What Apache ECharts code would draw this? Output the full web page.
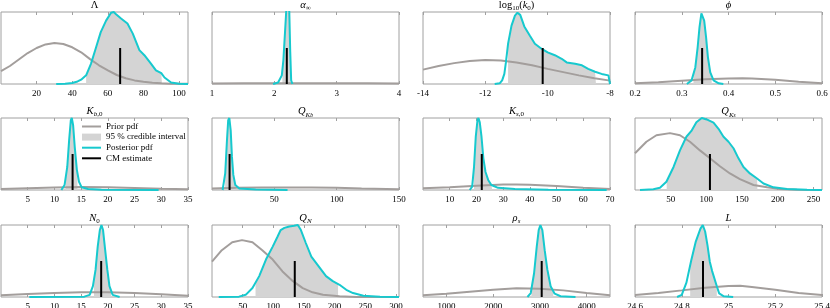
<!DOCTYPE html>
<html><head><meta charset="utf-8">
<script src="https://cdn.jsdelivr.net/npm/echarts@6/dist/echarts.min.js"></script>
<style>html,body{margin:0;padding:0;background:#fff}#c{width:830px;height:308px}</style>
</head><body><div id="c"></div>
<script>
// ---------- DATA (densities normalised to each panel's box height) ----------
const titles = [
  '{n|Λ}', '{it|α}{sub|∞}', '{n|log}{sub|10}{n|(}{it|k}{sub|0}{n|)}', '{it|ϕ}',
  '{it|K}{subi|b}{sub|,0}', '{it|Q}{subi|K}{subsub|b}', '{it|K}{subi|s}{sub|,0}', '{it|Q}{subi|K}{subsub|s}',
  '{it|N}{sub|0}', '{it|Q}{subi|N}', '{it|ρ}{subi|s}', '{it|L}'
];
const xMins = [0, 1, -14, 0.2, 0, 0, 0, 0, 0, 0, 500, 24.6];
const xMaxs = [105, 4, -8, 0.6, 35, 150, 70, 262, 35, 305, 4500, 25.4];
const tickLabels = [
  [20, 40, 60, 80, 100], [1, 2, 3, 4], [-14, -12, -10, -8], [0.2, 0.3, 0.4, 0.5, 0.6],
  [5, 10, 15, 20, 25, 30, 35], [50, 100, 150], [10, 20, 30, 40, 50, 60, 70], [50, 100, 150, 200, 250],
  [5, 10, 15, 20, 25, 30, 35], [50, 100, 150, 200, 250, 300], [1000, 2000, 3000, 4000], [24.6, 24.8, 25, 25.2, 25.4]
];

const priorLambda = [[0,0.18],[5,0.25],[10,0.34],[15,0.43],[20,0.5],[25,0.55],[30,0.57],[35,0.555],[40,0.51],[45,0.44],[50,0.345],[55,0.26],[60,0.19],[65,0.125],[70,0.08],[75,0.05],[80,0.03],[85,0.018],[90,0.01],[95,0.005],[100,0.003],[105,0.002]];
const postLambda = [[31,0],[36,0.005],[40,0.015],[43,0.035],[45,0.06],[47.8,0.12],[50.5,0.28],[53.4,0.51],[56,0.72],[59,0.88],[61.8,0.99],[63.3,1.0],[64.6,0.97],[67.4,0.91],[71,0.84],[74,0.7],[77.7,0.47],[80.5,0.4],[84.3,0.28],[87,0.19],[90,0.15],[91.8,0.09],[95.5,0.02],[100,0.004],[105,0]];

const priorAlpha = [[1,0.008],[1.5,0.01],[2,0.012],[2.5,0.012],[3,0.011],[3.5,0.009],[4,0.007]];
const postAlpha = [[1.98,0],[2.06,0.02],[2.12,0.12],[2.145,0.33],[2.17,0.7],[2.19,1.0],[2.215,1.3],[2.24,1.0],[2.255,0.45],[2.27,0.05],[2.29,0]];

const priorLogK = [[-14,0.2],[-13.5,0.25],[-13,0.29],[-12.5,0.32],[-12,0.335],[-11.5,0.325],[-11,0.3],[-10.5,0.26],[-10,0.21],[-9.5,0.165],[-9,0.12],[-8.5,0.08],[-8,0.047]];
const postLogK = [[-11.7,0],[-11.54,0.01],[-11.46,0.05],[-11.39,0.14],[-11.34,0.3],[-11.27,0.56],[-11.16,0.81],[-11.05,0.95],[-10.97,0.99],[-10.88,0.96],[-10.75,0.8],[-10.57,0.67],[-10.41,0.56],[-10.2,0.49],[-10.0,0.44],[-9.77,0.4],[-9.55,0.35],[-9.39,0.3],[-9.12,0.28],[-8.9,0.26],[-8.7,0.21],[-8.48,0.17],[-8.27,0.14],[-8.05,0.12],[-8,0.11],[-8,0]];

const priorPhi = [[0.2,0.01],[0.25,0.025],[0.3,0.045],[0.35,0.065],[0.4,0.078],[0.43,0.08],[0.45,0.078],[0.5,0.058],[0.55,0.03],[0.6,0.01]];
const postPhi = [[0.311,0],[0.321,0.05],[0.329,0.23],[0.334,0.51],[0.338,0.79],[0.342,0.98],[0.344,1.0],[0.348,0.88],[0.352,0.65],[0.356,0.37],[0.361,0.16],[0.368,0.05],[0.379,0.01],[0.389,0]];

const priorKb0 = [[0,0.015],[5,0.025],[10,0.035],[15,0.04],[20,0.037],[25,0.028],[30,0.018],[35,0.01]];
const postKb0 = [[11.3,0],[11.9,0.07],[12.4,0.32],[12.75,0.69],[13.07,0.97],[13.25,1.0],[13.5,0.9],[13.8,0.6],[14.2,0.28],[14.6,0.115],[15.1,0.037],[16.3,0.014],[18.8,0.005],[29.5,0]];

const priorQKb = [[0,0.02],[20,0.03],[40,0.035],[60,0.036],[80,0.034],[100,0.03],[120,0.022],[150,0.012]];
const postQKb = [[8.5,0],[10.6,0.23],[12,0.69],[13,0.97],[13.9,1.0],[15,0.83],[16,0.46],[17.1,0.21],[18.7,0.07],[21.9,0.02],[35,0.008],[60.6,0]];

const priorKs0 = [[0,0.023],[10,0.037],[20,0.06],[30,0.078],[35,0.078],[40,0.074],[50,0.055],[60,0.032],[70,0.014]];
const postKs0 = [[17.5,0],[18.4,0.046],[19.1,0.32],[19.75,0.74],[20.4,0.97],[20.75,1.0],[21.25,0.94],[21.9,0.74],[22.6,0.44],[23.4,0.25],[24.4,0.14],[25.6,0.07],[28.1,0.03],[34.4,0.014],[46.9,0.005],[68.75,0]];

const priorQKs = [[0,0.51],[16,0.67],[30,0.76],[49,0.79],[63,0.76],[77,0.67],[91,0.55],[105,0.44],[119,0.33],[133,0.23],[147,0.15],[166,0.07],[185,0.037],[203,0.014],[227,0.005],[262,0]];
const postQKs = [[7,0],[25.7,0.01],[35,0.03],[44,0.115],[54,0.32],[63,0.55],[72,0.74],[79,0.82],[86,0.94],[93.5,1.0],[100.5,0.98],[110,0.935],[117,0.85],[124,0.74],[131,0.67],[138,0.58],[145,0.44],[152,0.32],[161,0.23],[171,0.16],[180,0.09],[194,0.037],[213,0.014],[241,0.005],[262,0]];

const priorN0 = [[0,0.023],[5,0.04],[10,0.055],[15,0.065],[20,0.065],[25,0.055],[30,0.037],[35,0.018]];
const postN0 = [[5.3,0],[15.6,0.005],[16.6,0.03],[17.2,0.15],[17.7,0.38],[18.1,0.7],[18.5,0.93],[18.8,1.0],[19.1,0.93],[19.5,0.65],[19.9,0.38],[20.3,0.15],[20.9,0.03],[22.2,0]];

const priorQN = [[0,0.49],[16,0.65],[33,0.76],[49,0.79],[66,0.76],[82,0.65],[99,0.52],[115,0.355],[132,0.22],[148,0.124],[164,0.065],[181,0.03],[208,0.01],[236,0],[305,0]];
const postQN = [[11,0],[44,0.005],[55,0.03],[66,0.124],[77,0.29],[88,0.52],[99,0.7],[107,0.84],[112,0.93],[118,0.96],[126,0.98],[134,0.99],[140,1.0],[145,0.93],[153,0.75],[162,0.56],[170,0.47],[178,0.38],[186,0.29],[197,0.22],[208,0.17],[219,0.1],[230,0.055],[247,0.018],[274,0.005],[305,0]];

const priorRho = [[500,0.023],[1000,0.046],[1500,0.074],[2000,0.1],[2500,0.12],[3000,0.115],[3500,0.092],[4000,0.055],[4500,0.023]];
const postRho = [[2734,0],[2805,0.055],[2876,0.33],[2933,0.7],[2975,0.93],[3011,1.0],[3053,0.93],[3103,0.65],[3160,0.38],[3230,0.15],[3316,0.046],[3443,0.01],[3762,0]];

const priorL = [[24.6,0.028],[24.7,0.055],[24.8,0.092],[24.9,0.13],[25.0,0.152],[25.05,0.155],[25.1,0.138],[25.2,0.1],[25.3,0.055],[25.4,0.028]];
const postL = [[24.78,0],[24.8,0.03],[24.82,0.2],[24.84,0.5],[24.86,0.77],[24.88,0.95],[24.89,1.0],[24.9,0.91],[24.91,0.72],[24.92,0.49],[24.93,0.36],[24.95,0.15],[24.96,0.05],[24.98,0.01],[25.02,0]];

const ciLow  = [47.8, 2.13, -11.27, 0.325, 12.1, 10.5, 18.9, 44.4, 17.4, 71, 2819, 24.836];
const ciHigh = [90.4, 2.26, -8.45, 0.364, 14.3, 19.0, 25.9, 171.5, 20.6, 205.6, 3287, 24.95];
const cmEstimate = [66.9, 2.2, -10.16, 0.3436, 13.4, 14.1, 22.0, 105, 18.75, 135, 3039, 24.891];
const cmHeight = 0.5;

const priors = [priorLambda, priorAlpha, priorLogK, priorPhi, priorKb0, priorQKb, priorKs0, priorQKs, priorN0, priorQN, priorRho, priorL];
const posts  = [postLambda, postAlpha, postLogK, postPhi, postKb0, postQKb, postKs0, postQKs, postN0, postQN, postRho, postL];

// ---------- LAYOUT ----------
const FONT = 'Liberation Serif';
const colLeft = [1, 212, 423, 635];
const rowTop = [12, 118, 225];
const W = 187, H = 72;
const GRAY_BOX = '#a0a0a0';
const C_PRIOR = '#a39e9c', C_POST = '#17c9ce', C_CI = '#d4d4d4', C_CM = '#000';

function ciArea(post, lo, hi) {
  const interp = (x) => {
    for (let k = 0; k < post.length - 1; k++) {
      const a = post[k], b = post[k + 1];
      if (x >= a[0] && x <= b[0] && b[0] !== a[0]) return a[1] + (b[1] - a[1]) * (x - a[0]) / (b[0] - a[0]);
    }
    return 0;
  };
  const out = [[lo, interp(lo)]];
  post.forEach(p => { if (p[0] > lo && p[0] < hi) out.push(p); });
  out.push([hi, interp(hi)]);
  return out;
}

const grid = [], xAxis = [], yAxis = [], series = [], title = [];
const rich = {
  n: { fontFamily: FONT, fontSize: 10.5, lineHeight: 14, color: '#000' },
  it: { fontFamily: FONT, fontSize: 10.5, fontStyle: 'italic', lineHeight: 14, color: '#000' },
  sub: { fontFamily: FONT, fontSize: 7, lineHeight: 14, verticalAlign: 'bottom', color: '#000' },
  subi: { fontFamily: FONT, fontSize: 7, fontStyle: 'italic', lineHeight: 14, verticalAlign: 'bottom', color: '#000' },
  subsub: { fontFamily: FONT, fontSize: 5.5, fontStyle: 'italic', lineHeight: 16, verticalAlign: 'bottom', color: '#000' }
};

for (let i = 0; i < 12; i++) {
  const c = i % 4, r = Math.floor(i / 4);
  grid.push({ left: colLeft[c], top: rowTop[r], width: W, height: H, show: true,
    borderColor: GRAY_BOX, borderWidth: 1, backgroundColor: 'transparent',
    containLabel: false, outerBoundsMode: 'none' });
  xAxis.push({ gridIndex: i, type: 'value', min: xMins[i], max: xMaxs[i], position: 'bottom',
    axisLine: { show: false }, splitLine: { show: false },
    axisTick: { show: true, inside: true, length: 3, customValues: tickLabels[i], lineStyle: { color: GRAY_BOX } },
    axisLabel: { customValues: tickLabels[i], formatter: v => String(v), fontFamily: FONT, fontSize: 9, color: '#000', margin: 5 } });
  xAxis.push({ gridIndex: i, type: 'value', min: xMins[i], max: xMaxs[i], position: 'top',
    axisLine: { show: false }, splitLine: { show: false },
    axisTick: { show: true, inside: true, length: 3, customValues: tickLabels[i], lineStyle: { color: GRAY_BOX } },
    axisLabel: { show: false } });
  yAxis.push({ gridIndex: i, type: 'value', min: 0, max: 1, show: false, splitLine: { show: false } });

  title.push({ text: titles[i], left: colLeft[c] + W / 2, top: rowTop[r] - 7, padding: 0,
    textAlign: 'center', textVerticalAlign: 'middle',
    textStyle: { fontFamily: FONT, fontSize: 10.5, fontWeight: 'normal', color: '#000', rich: rich } });

  const base = { type: 'line', xAxisIndex: 2 * i, yAxisIndex: i, symbol: 'none', showSymbol: false, silent: true, clip: true };
  series.push(Object.assign({}, base, { name: '95 % credible interval', data: ciArea(posts[i], ciLow[i], ciHigh[i]),
    color: C_CI, lineStyle: { width: 0 }, areaStyle: { color: C_CI, opacity: 1 }, z: 1 }));
  series.push(Object.assign({}, base, { name: 'Prior pdf', data: priors[i], color: C_PRIOR,
    lineStyle: { width: 2, color: C_PRIOR }, z: 2 }));
  series.push(Object.assign({}, base, { name: 'Posterior pdf', data: posts[i], color: C_POST,
    lineStyle: { width: 2, color: C_POST }, z: 3 }));
  series.push(Object.assign({}, base, { name: 'CM estimate', data: [[cmEstimate[i], 0], [cmEstimate[i], cmHeight]],
    color: C_CM, lineStyle: { width: 2, color: C_CM }, z: 4 }));
}

const LINE_ICON = 'path://M0,0 L19,0 L19,2 L0,2 Z';
const chart = echarts.init(document.getElementById('c'), null, { renderer: 'canvas' });
chart.setOption({
  animation: false,
  backgroundColor: '#fff',
  title: title,
  grid: grid, xAxis: xAxis, yAxis: yAxis, series: series,
  legend: {
    data: [
      { name: 'Prior pdf', icon: LINE_ICON, itemStyle: { color: C_PRIOR } },
      { name: '95 % credible interval', icon: 'rect', itemStyle: { color: C_CI } },
      { name: 'Posterior pdf', icon: LINE_ICON, itemStyle: { color: C_POST } },
      { name: 'CM estimate', icon: LINE_ICON, itemStyle: { color: C_CM } }
    ],
    orient: 'vertical', left: 82, top: 122, padding: 0, itemWidth: 19, itemHeight: 7, itemGap: 1.6,
    symbolKeepAspect: true, selectedMode: false,
    textStyle: { fontFamily: FONT, fontSize: 9, color: '#000', lineHeight: 9 }
  }
});
</script>
</body></html>
